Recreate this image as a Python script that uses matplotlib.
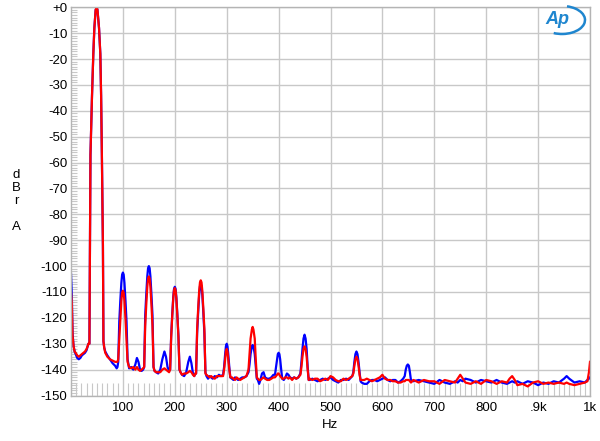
import matplotlib.pyplot as plt
from matplotlib.patches import Arc
from matplotlib.ticker import FixedLocator, MultipleLocator

plt.rcParams["font.family"] = ["Liberation Sans", "DejaVu Sans"]

# FFT spectrum, one row per region of the trace
freq_hz = [
    0, 1.5, 3, 5, 7, 9, 12, 15, 18, 21, 24, 27, 30, 32, 33.5,
    35.5, 36.5, 37.5, 40.5, 43, 45, 47.5, 49.5, 51, 54, 56.5, 58, 59.5, 61.5, 62.5,
    64, 66, 70, 75, 80, 85, 88, 89.5,
    91, 93, 95, 97, 98.5, 100, 101.5, 103, 105, 107, 109,
    112, 116, 120, 124, 127, 130, 133, 136, 139,
    141, 143, 145, 147, 148.5, 150, 151.5, 153, 155, 157, 159,
    161, 164, 168, 172, 176, 180, 183, 186, 189,
    191, 193, 195, 197, 198.5, 200, 201.5, 203, 205, 207, 209,
    211, 214, 218, 222, 226, 229, 232, 235, 237.5, 239.5,
    241, 243, 245, 247, 248.5, 250, 251.5, 253, 255, 257, 259,
    261, 264, 267, 270, 273, 277, 281, 285, 289,
    293, 295, 297, 298.5, 300, 301.5, 303, 305, 307,
    310, 313, 316, 319, 322, 326, 330, 334, 338,
    342, 344, 346, 348.5, 350, 351.5, 354, 356, 358,
    360, 362.5, 365, 368, 371, 374, 378, 382, 386, 390,
    393, 395, 397, 398.5, 400, 401.5, 403, 405, 407,
    410, 413, 416, 419, 422, 426, 430, 434, 438,
    442, 444, 446, 448, 450, 452, 454, 456, 458,
    460, 465, 470, 475, 480, 485, 490, 495, 500, 505, 510, 515, 520, 525, 530, 535,
    542, 544, 546, 548, 550, 552, 554, 556, 558,
    560, 565, 570, 575, 580, 585, 590, 595, 600, 605, 610, 615, 620, 625, 630, 635, 640,
    643, 645, 647, 649, 651, 653, 655,
    660, 670, 680, 690, 700, 710, 720, 730, 740, 745, 750, 755, 760, 770, 780, 790, 800,
    810, 820, 830, 840, 845, 850, 855, 860, 870, 880, 890, 900, 910, 920, 930, 940, 950,
    955, 960, 970, 980, 990, 995, 998, 1000,
]

left_dbr = [
    -103, -110, -126, -131, -133, -134, -135.5, -136, -135.5, -134.5, -134, -133.5, -132.5, -131, -130,
    -130, -92, -57, -34, -18, -8, -1, 0, -1, -8, -18, -34, -57, -92, -129,
    -131.5, -133, -134.5, -136, -137.5, -138.5, -139.5, -139,
    -137, -121.5, -113.5, -106.5, -103.3, -102.5, -103.3, -106.5, -113.5, -121.5, -136,
    -139.5, -139, -140, -138, -135.5, -137, -140, -140.5, -140,
    -139, -119, -111, -104, -100.8, -100, -100.8, -104, -111, -119, -139,
    -140.5, -141, -141.5, -140, -136, -133, -135, -139, -140.5,
    -140, -127, -119, -112, -108.8, -108, -108.8, -112, -119, -127, -140,
    -141, -142, -142.5, -141, -137, -135, -137.5, -141.5, -142.5, -141.5,
    -141.5, -126, -118, -111, -107.8, -107, -107.8, -111, -118, -126, -141,
    -142.5, -143.5, -142.5, -143, -143.5, -142.5, -143, -142, -142.5,
    -142, -139, -134, -131, -130, -131, -134, -139, -143,
    -143.5, -144, -143, -143.5, -144, -143.5, -143, -143, -142.5,
    -141, -138, -134, -131, -130.5, -131, -134, -139, -143.5,
    -144, -145.5, -144, -141.5, -141, -143, -143.5, -143.5, -143, -142,
    -142, -139, -136, -134, -133.5, -134, -136, -140, -143.5,
    -144, -143, -141.5, -142, -143, -143.5, -143, -143.5, -143,
    -141.5, -137, -132, -128, -126.5, -128, -132, -139, -144,
    -144, -143.5, -144, -144.5, -144, -143.5, -144, -143.5, -143, -144, -144.5, -145, -144, -144, -143.5, -144,
    -142.5, -141, -137, -134, -133, -134, -137, -141, -144.5,
    -145, -145.5, -145.5, -144.5, -144, -144, -144.5, -144, -143.5, -143, -144, -144.5, -144, -144, -145, -144.5, -143.5,
    -142.5, -140, -138.5, -138, -138.5, -141, -144,
    -144.5, -144, -144.5, -145, -145.5, -144, -145, -145.5, -144.5, -145, -144, -144.5, -143.5, -144, -145, -144, -144.5,
    -145, -144, -145, -145.5, -145, -144.5, -145, -144.5, -145.5, -144.5, -145, -146, -145, -145.5, -144.5, -145, -143.5,
    -142.5, -143.5, -145, -144.5, -145, -144, -143.5, -143,
]

right_dbr = [
    -110, -114, -127, -131, -133, -133.5, -134.5, -135, -134.5, -134, -133.5, -133, -132, -131, -130,
    -130, -92, -57, -34, -18, -8, -1, 0, -1, -8, -18, -34, -57, -92, -129,
    -131.5, -133.5, -135, -136, -136.5, -137, -137, -137,
    -136, -128.5, -120.5, -113.5, -110.3, -109.5, -110.3, -113.5, -120.5, -128.5, -137,
    -139, -139.5, -139, -140, -139, -140, -140.5, -140, -139.5,
    -139, -123, -115, -108, -104.8, -104, -104.8, -108, -115, -123, -139,
    -140.5, -141, -141, -141, -140, -139.5, -140, -140.5, -141,
    -140, -127.5, -119.5, -112.5, -109.3, -108.5, -109.3, -112.5, -119.5, -127.5, -140,
    -141, -142, -141.5, -141.5, -141, -140.5, -141, -142, -142.5, -141.5,
    -141.5, -124.5, -116.5, -109.5, -106.3, -105.5, -106.3, -109.5, -116.5, -124.5, -141.5,
    -142, -142.5, -143, -142.5, -143, -143.5, -142.5, -142.5, -142.5,
    -142.5, -140, -136, -133, -132, -133, -136, -140, -143,
    -143, -143.5, -144, -143, -143.5, -144, -143.5, -143, -142.5,
    -140, -134, -128, -124.5, -123.5, -124.5, -128, -136, -143,
    -143.5, -144, -144, -143.5, -143, -143.5, -144, -144, -143.5, -143,
    -143, -142.5, -142, -141.5, -141.5, -142, -142.5, -143, -143.5,
    -143.5, -143, -143, -143.5, -143, -144, -143, -143.5, -143,
    -142, -139, -135, -132, -131, -132, -135, -140, -144,
    -143.5, -144, -143.5, -143.5, -144.5, -144, -143.5, -144, -142.5, -143, -144, -144.5, -144.5, -143.5, -144, -143.5,
    -142.5, -141.5, -138.5, -136, -135, -136, -138.5, -142, -144,
    -144, -144, -143.5, -144, -144.5, -144, -143.5, -143, -142, -143.5, -144, -144, -144.5, -144.5, -145, -145, -144.5,
    -144.5, -144, -144, -144, -144, -144.5, -145,
    -144, -145, -144, -144.5, -144.5, -145.5, -144, -144.5, -145, -143.5, -142, -143.5, -145, -145.5, -144.5, -145.5, -144,
    -144.5, -145.5, -144.5, -145, -143.5, -142.5, -144, -146, -145.5, -146.5, -145, -144.5, -145.5, -145, -145.5, -145, -145.5,
    -145, -145.5, -146, -145.5, -145, -144.5, -141, -137,
]

y_ticks = list(range(0, -151, -10))
y_tick_labels = ["+0"] + [f"-{v}" for v in range(10, 151, 10)]
x_ticks = [100, 200, 300, 400, 500, 600, 700, 800, 900, 1000]
x_tick_labels = ["100", "200", "300", "400", "500", "600", "700", "800", ".9k", "1k"]

GRID_COLOR = "#c8c8c8"
LOGO_COLOR = "#1f86cf"


def main() -> None:
    fig = plt.figure(figsize=(6.0, 4.41), dpi=100)
    ax = fig.add_axes([71 / 600, 1 - 395.5 / 441, 519 / 600, 388.2 / 441])

    ax.plot(freq_hz, left_dbr, color="#0000ff", linewidth=1.6)
    ax.plot(freq_hz, right_dbr, color="#ff0000", linewidth=1.6)

    ax.set_xlim(0, 1000)
    ax.set_ylim(-150, 0)

    ax.xaxis.set_major_locator(FixedLocator(x_ticks))
    ax.set_xticklabels(x_tick_labels)
    ax.yaxis.set_major_locator(FixedLocator(y_ticks))
    ax.set_yticklabels(y_tick_labels)
    ax.xaxis.set_minor_locator(MultipleLocator(10))
    ax.yaxis.set_minor_locator(MultipleLocator(1))

    ax.grid(True, which="major", color=GRID_COLOR, linewidth=1)
    ax.tick_params(which="major", length=0, labelsize=9.5)
    ax.tick_params(axis="x", which="major", pad=4.5)
    ax.tick_params(axis="y", which="major", pad=2.5)
    ax.tick_params(axis="x", which="minor", direction="in", length=9.5, width=0.8, color=GRID_COLOR)
    ax.tick_params(axis="y", which="minor", direction="in", length=4.5, width=0.8, color=GRID_COLOR)

    for spine in ax.spines.values():
        spine.set_color("#b4b4b4")
        spine.set_linewidth(1)

    fig.text(330 / 600, 1 - 425 / 441, "Hz", ha="center", va="center", fontsize=9.5)
    fig.text(16 / 600, 1 - 201 / 441, "d\nB\nr\n\nA", ha="center", va="center",
             fontsize=9.5, linespacing=1.1)

    # Audio Precision badge in the top right corner
    fig.text(557 / 600, 1 - 20 / 441, "Ap", ha="center", va="center", fontsize=13,
             fontstyle="italic", fontweight="bold", color=LOGO_COLOR)
    fig.patches.append(Arc((562 / 600, 1 - 20 / 441), 46 / 600, 28 / 441,
                           theta1=-115, theta2=75, color=LOGO_COLOR, linewidth=1.8,
                           transform=fig.transFigure, figure=fig))

    fig.savefig("out.png", dpi=100)
    plt.close(fig)


if __name__ == "__main__":
    main()
